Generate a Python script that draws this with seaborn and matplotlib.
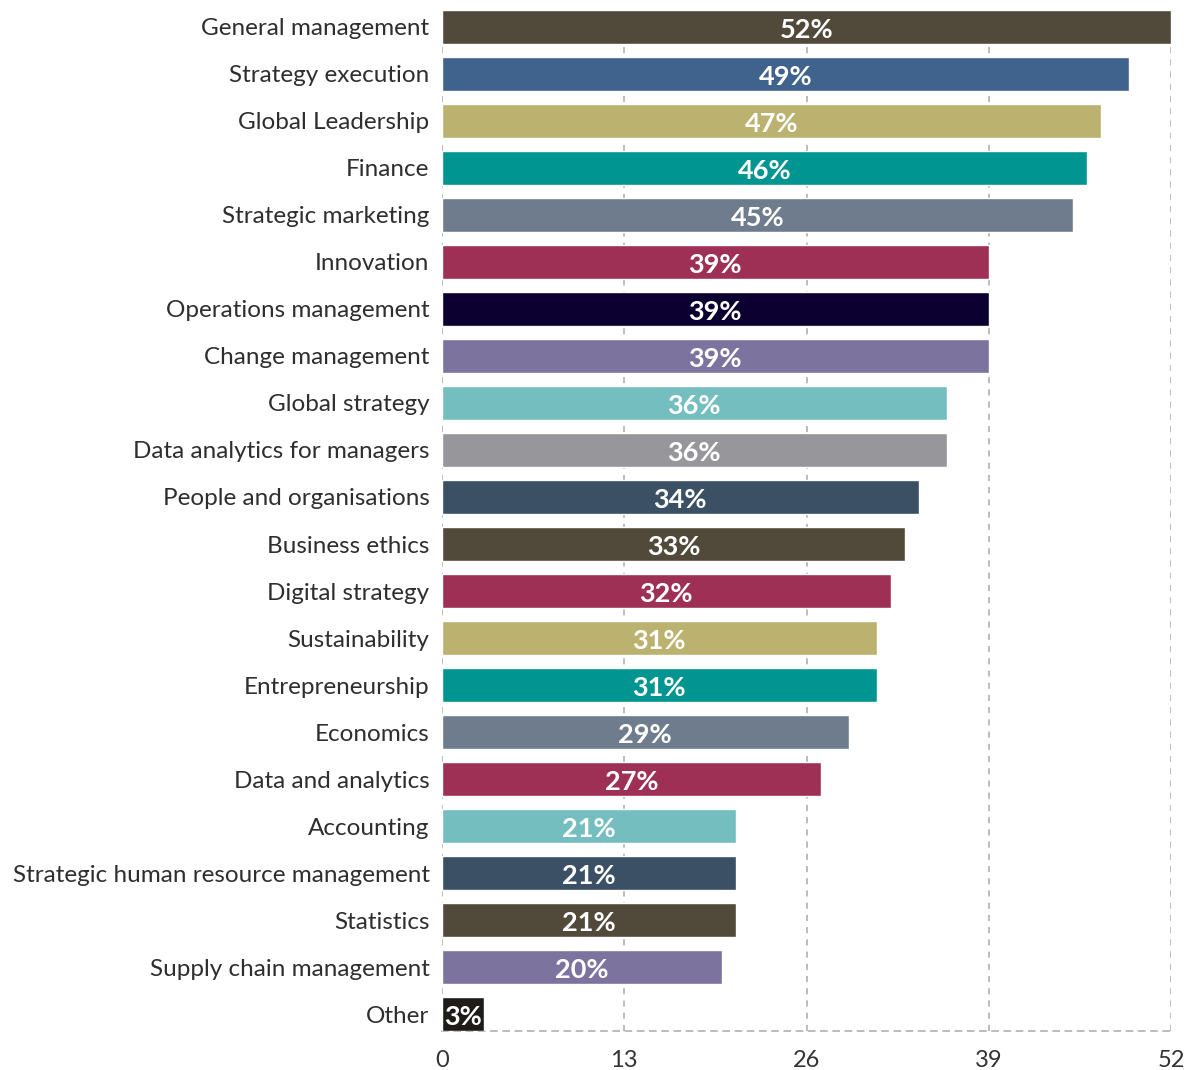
import matplotlib
matplotlib.use("Agg")
import matplotlib.pyplot as plt
import seaborn as sns
import pandas as pd

categories = [
    "General management", "Strategy execution", "Global Leadership", "Finance",
    "Strategic marketing", "Innovation", "Operations management", "Change management",
    "Global strategy", "Data analytics for managers", "People and organisations",
    "Business ethics", "Digital strategy", "Sustainability", "Entrepreneurship",
    "Economics", "Data and analytics", "Accounting",
    "Strategic human resource management", "Statistics", "Supply chain management", "Other",
]
values = [52, 49, 47, 46, 45, 39, 39, 39, 36, 36, 34, 33, 32, 31, 31, 29, 27, 21, 21, 21, 20, 3]
bar_colors = [
    "#51493a", "#3f638c", "#bcb270", "#009590", "#6f7c8d", "#9e3056", "#0b0030", "#7d739f",
    "#74bec0", "#97979b", "#3b4f65", "#51493a", "#9e3056", "#bcb270", "#009590", "#6f7c8d",
    "#9e3056", "#74bec0", "#3b4f65", "#51493a", "#7d739f", "#1e1b1b",
]
x_ticks = [0, 13, 26, 39, 52]

sns.set_theme(style="white")
plt.rcParams["font.family"] = ["Lato", "DejaVu Sans"]

df = pd.DataFrame({"category": categories, "value": values})

fig = plt.figure(figsize=(11.87, 10.70), dpi=100)
ax = fig.add_axes([0.3724, 0.0364, 0.6141, 0.9543])

sns.barplot(data=df, x="value", y="category", hue="category", palette=bar_colors,
            legend=False, width=0.72, saturation=1, ax=ax, zorder=3)

for cont in ax.containers:
    ax.bar_label(cont, labels=[f"{v:g}%" for v in cont.datavalues], label_type="center",
                 color="white", fontsize=19.5, fontweight="bold", fontstyle="normal",
                 padding=0)
for t in ax.texts:
    t.set_va("center")
    t.xyann = (0, -2)

ax.set_xlim(0, 52)
ax.set_ylim(21.36, -0.36)
ax.set_xticks(x_ticks)
ax.set_xticklabels([str(t) for t in x_ticks])
ax.grid(axis="x", color="#aaaaaa", linestyle=(0, (4, 4)), linewidth=1.1, zorder=0)
ax.grid(axis="y", visible=False)
for side in ["top", "left", "right"]:
    ax.spines[side].set_visible(False)
ax.spines["bottom"].set_color("#aaaaaa")
ax.spines["bottom"].set_linestyle((0, (4, 4)))
ax.spines["bottom"].set_linewidth(1.1)
ax.tick_params(axis="x", length=0, labelsize=17, labelcolor="#333333", pad=14)
ax.tick_params(axis="y", length=0, labelsize=17.5, labelcolor="#2e2e2e", pad=9)
ax.set_xlabel("")
ax.set_ylabel("")

fig.savefig("out.png", dpi=100, facecolor="white")
